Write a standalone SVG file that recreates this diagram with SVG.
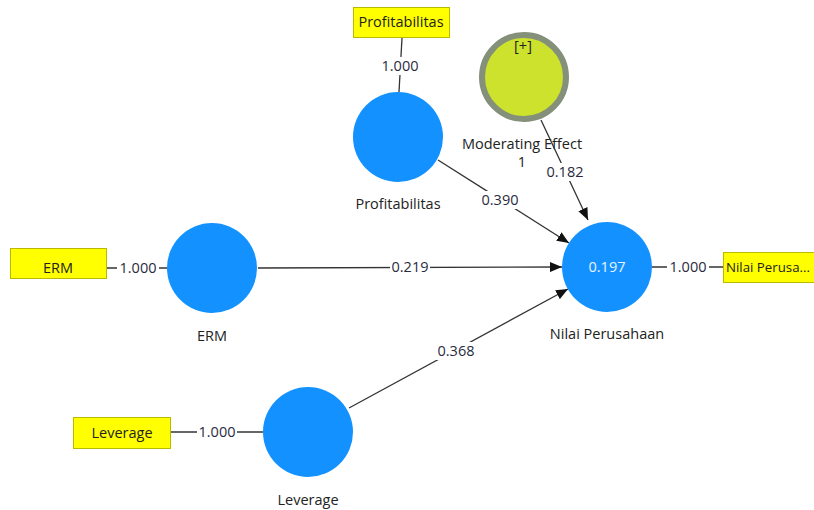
<svg xmlns="http://www.w3.org/2000/svg" width="814" height="510" viewBox="0 0 814 510">
<defs>
<style>
text{font-family:"Open Sans","Noto Sans","Liberation Sans",sans-serif;font-size:14.5px;fill:#222;}
.lv{fill:#1392ff;}
.ind{fill:#ffff00;stroke:#b9b900;stroke-width:1;}
.c{stroke:#333;stroke-width:1.3;fill:none;}
.lab{fill:#fff;}
.num{fill:#2a2a40;text-anchor:middle;}
.mid{text-anchor:middle;}
</style>
<marker id="ah" viewBox="0 0 12 10" refX="12" refY="5" markerWidth="12" markerHeight="10" markerUnits="userSpaceOnUse" orient="auto">
<path d="M0,0 L12,5 L0,10 z" fill="#111"/>
</marker>
</defs>
<rect width="814" height="510" fill="#fff"/>
<g id="connectors">
<line class="c" x1="402" y1="38" x2="399" y2="92"/>
<line class="c" x1="107" y1="268" x2="167" y2="268"/>
<line class="c" x1="171" y1="432" x2="263" y2="432"/>
<line class="c" x1="652" y1="267" x2="723" y2="267"/>
<line class="c" x1="438" y1="160" x2="569" y2="243" marker-end="url(#ah)"/>
<line class="c" x1="258" y1="268" x2="562" y2="267" marker-end="url(#ah)"/>
<line class="c" x1="349" y1="408" x2="568" y2="289" marker-end="url(#ah)"/>
<rect class="lab" x="380" y="57" width="40" height="18"/>
<text class="num" x="400" y="71">1.000</text>
<rect class="lab" x="117" y="259" width="42" height="18"/>
<text class="num" x="138" y="273">1.000</text>
<rect class="lab" x="197" y="423" width="40" height="18"/>
<text class="num" x="217" y="437">1.000</text>
<rect class="lab" x="667" y="258" width="42" height="18"/>
<text class="num" x="688" y="272">1.000</text>
<rect class="lab" x="480" y="191" width="40" height="18"/>
<text class="num" x="500" y="205">0.390</text>
<rect class="lab" x="390" y="258" width="40" height="18"/>
<text class="num" x="410" y="272">0.219</text>
<rect class="lab" x="436" y="342" width="40" height="18"/>
<text class="num" x="456" y="356">0.368</text>
</g>
<g id="ind-profitabilitas">
<rect class="ind" x="353.5" y="7.5" width="96" height="30"/>
<text class="mid" x="401" y="27">Profitabilitas</text>
</g>
<g id="ind-erm">
<rect class="ind" x="10.5" y="248.5" width="96" height="30"/>
<text class="mid" x="58" y="273">ERM</text>
</g>
<g id="ind-leverage">
<rect class="ind" x="73.5" y="417.5" width="97" height="31"/>
<text class="mid" x="122" y="438">Leverage</text>
</g>
<g id="ind-nilai">
<rect class="ind" x="723.5" y="252.5" width="95" height="30"/>
<text x="726" y="272" style="font-size:13.5px" textLength="84" lengthAdjust="spacingAndGlyphs">Nilai Perusa...</text>
</g>
<g id="lv-profitabilitas">
<circle class="lv" cx="398" cy="137" r="45"/>
<text class="mid" x="398" y="209">Profitabilitas</text>
</g>
<g id="lv-erm">
<circle class="lv" cx="212" cy="268" r="45"/>
<text class="mid" x="212" y="341">ERM</text>
</g>
<g id="lv-leverage">
<circle class="lv" cx="308" cy="432" r="45"/>
<text class="mid" x="308" y="505">Leverage</text>
</g>
<g id="lv-nilai">
<circle class="lv" cx="607" cy="267" r="45"/>
<text class="mid" x="607" y="272" style="fill:#e8f3ff">0.197</text>
<text class="mid" x="607" y="339">Nilai Perusahaan</text>
</g>
<g id="lv-moderating">
<circle cx="524" cy="77" r="42" fill="#cde22c" stroke="#84907a" stroke-width="6"/>
<text class="mid" x="523" y="51">[+]</text>
<text class="mid" x="522" y="149">Moderating Effect</text>
<text class="mid" x="522" y="167">1</text>
</g>
<g id="connector-moderating">
<line class="c" x1="541" y1="120" x2="588" y2="220" marker-end="url(#ah)"/>
<rect class="lab" x="545" y="163" width="40" height="18"/>
<text class="num" x="565" y="177">0.182</text>
</g>
</svg>
